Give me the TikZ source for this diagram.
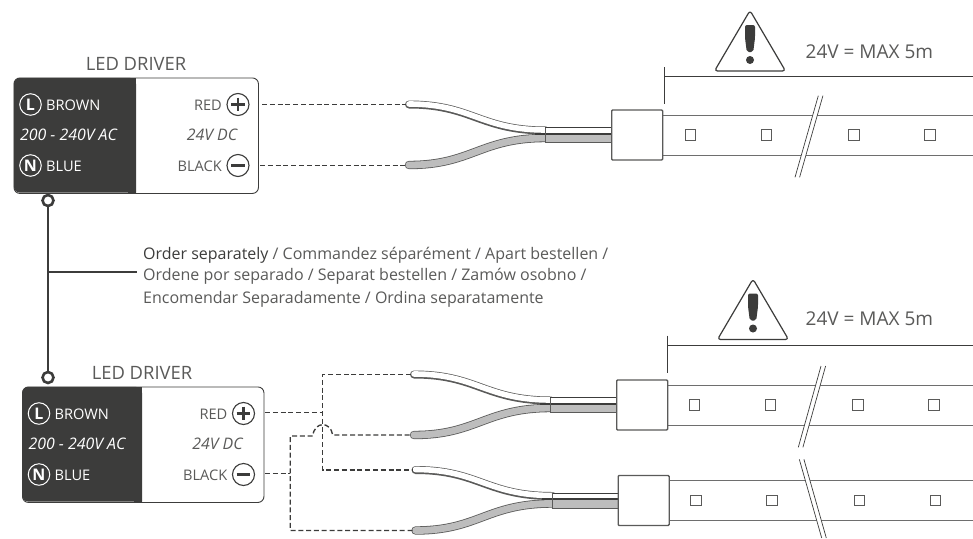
\documentclass[tikz,border=0pt]{standalone}
\usepackage{fontspec}
\setmainfont{Open Sans}
\definecolor{ink}{HTML}{3C3C3B}
\definecolor{soft}{HTML}{5A5A59}
\definecolor{wiregrey}{HTML}{BDBDBD}
\definecolor{striplc}{HTML}{6E6E6E}
\tikzset{
  px/.style={x=1pt,y=-1pt},
  driver/.style={draw=ink,line width=0.9pt,rounded corners=6pt,fill=white,inner sep=0pt,minimum height=115.5pt},
  title/.style={anchor=base,font=\fontsize{18.4}{20}\selectfont,text=soft,inner sep=0pt},
  lab/.style={font=\fontsize{14.6}{16}\selectfont,text=soft,inner sep=0pt},
  labw/.style={lab,text=white},
  acfont/.style={font=\fontsize{15.9}{18}\selectfont\itshape,inner sep=0pt,anchor=base},
  ring/.style={circle,draw=white,line width=1pt,minimum size=21.5pt,inner sep=0pt,font=\fontsize{16}{18}\selectfont\bfseries,text=white},
  polar/.style={circle,draw=ink,line width=1.1pt,minimum size=22pt,inner sep=0pt},
  sign/.style={draw=ink,line width=2.3pt},
  joint/.style={circle,draw=ink,line width=2.6pt,fill=white,minimum size=11pt,inner sep=0pt},
  feed/.style={draw=ink,line width=1.1pt},
  dashwire/.style={draw=ink,line width=1.35pt,dash pattern=on 5pt off 2.8pt},
  connbox/.style={draw=soft,line width=1.4pt,rounded corners=1pt,fill=white,minimum width=51pt,minimum height=50pt,inner sep=0pt},
  led/.style={draw=soft,line width=1pt,fill=white,minimum size=10.5pt,inner sep=0pt},
  stripline/.style={draw=striplc,line width=1pt},
  breakline/.style={draw=ink,line width=0.7pt},
  dim/.style={draw=ink,line width=0.9pt},
  para/.style={anchor=base west,font=\fontsize{16}{18}\selectfont,inner sep=0pt,text=soft},
  warn/.style={anchor=base west,font=\fontsize{19}{21}\selectfont,text=soft,inner sep=0pt}
}
% driver: #1 name, #2 left x, #3 top y, #4 split x, #5 width
\newcommand{\drivergroup}[5]{%
  \begin{scope}[shift={(#2,#3)}]
    \node[driver,minimum width=#5 pt,anchor=north west] (#1) at (0,0) {};
    \fill[ink,rounded corners=6pt] (0.4,0.4) -- (#4,0.4) [sharp corners] -- (#4,115.1) [rounded corners=6pt] -- (0.4,115.1) -- cycle;
    \fill[ink] (#4-8,0.4) rectangle (#4,115.1);
    \node[ring] (#1L) at (17,27) {L};
    \node[ring] (#1N) at (17,88) {N};
    \node[labw,anchor=base west] at (32.5,32.7) {BROWN};
    \node[labw,anchor=base west] at (32.5,93.7) {BLUE};
    \node[acfont,text=white] at (55,63) {200 - 240V AC};
    \node[polar] (#1P) at (#5-20,27) {};
    \draw[sign] (#1P.center) +(-6.8,0) -- +(6.8,0) (#1P.center) +(0,-6.8) -- +(0,6.8);
    \node[polar] (#1M) at (#5-20,88) {};
    \draw[sign] (#1M.center) +(-6.8,0) -- +(6.8,0);
    \node[lab,anchor=base east] at (#5-36,32.7) {RED};
    \node[lab,anchor=base east] at (#5-36,93.7) {BLACK};
    \node[acfont,text=soft] at (#5-46,63) {24V DC};
  \end{scope}}
% wires + connector: #1 prefix, #2 dx, #3 dy
\newcommand{\wireset}[3]{%
  \begin{scope}[shift={(#2,#3)}]
    \coordinate (#1tipw) at (406,104.5);
    \coordinate (#1tipg) at (406,165);
    \draw[soft,line width=8pt,line cap=round] (409,104.5) .. controls (472,104.5) and (480,130.5) .. (546,130.5);
    \draw[white,line width=5.6pt,line cap=round] (409,104) .. controls (472,104) and (480,130) .. (546,130);
    \draw[soft,line width=8.4pt,line cap=round] (409,165) .. controls (472,165) and (480,138) .. (546,138);
    \draw[wiregrey,line width=6.8pt,line cap=round] (409,165) .. controls (472,165) and (480,138) .. (546,138);
    \fill[white] (545,127.7) rectangle (611,133);
    \fill[wiregrey] (545,134.5) rectangle (611,142.5);
    \draw[ink,line width=0.8pt] (545,127.7) -- (611,127.7);
    \draw[ink,line width=1.6pt] (535,133.7) -- (611,133.7);
    \draw[soft,line width=0.8pt] (545,142.7) -- (611,142.7);
    \draw[soft,line width=0.5pt] (545.5,127.7) -- (545.5,142.7);
    \node[connbox] (#1box) at (637.2,135) {};
  \end{scope}}
% strip: #1 dx, #2 top y, #3-#6 slash 1 top x, bottom x, top y, bottom y
\newcommand{\ledstrip}[6]{%
  \begin{scope}[shift={(#1,#2)}]
    \draw[stripline] (663,0) -- (973,0) (663,40) -- (973,40);
    \node[led] at (690.7,20) {};
    \node[led] at (766.7,20) {};
    \node[led] at (854,20) {};
    \node[led] at (930,20) {};
  \end{scope}
  \fill[white] (#3,#5) -- (#3+4.6,#5) -- (#4+4.6,#6) -- (#4,#6) -- cycle;
  \draw[breakline] (#3,#5) -- (#4,#6) (#3+4.6,#5) -- (#4+4.6,#6);}
% warning: #1 dx, #2 dy
\newcommand{\warning}[2]{%
  \begin{scope}[shift={(#1,#2)}]
    \draw[ink,line width=1.2pt,line join=round,rounded corners=3pt] (750,10.5) -- (785.5,71) -- (714.5,71) -- cycle;
    \fill[ink,rounded corners=2pt] (745,25) -- (755,25) -- (755,38) -- (753.2,52) -- (746.8,52) -- (745,38) -- cycle;
    \fill[ink] (750,60) circle (4pt);
    \draw[dim] (664,76.5) -- (973,76.5) (664,67) -- (664,104);
  \end{scope}}
\begin{document}
\begin{tikzpicture}[px]
\useasboundingbox (0,0) rectangle (973,538);
\fill[white] (0,0) rectangle (973,538);

% top driver
\drivergroup{da}{13.5}{77.5}{122.5}{244.5}
\node[title] at (136,70) {LED DRIVER};
% bottom driver
\drivergroup{db}{22}{386.5}{120}{241.5}
\node[title] at (142,379) {LED DRIVER};

% feed line
\node[joint] (ja) at (48,200.5) {};
\node[joint] (jb) at (48,377.5) {};
\coordinate (branch) at (48,272);
\coordinate (branchend) at (137,272);
\draw[feed] (ja) -- (jb);
\draw[feed] (branch) -- (branchend);

\node[para] (t1) at (143,259) {\textcolor{ink}{Order separately} / Commandez séparément / Apart bestellen /};
\node[para] (t2) at (143,280) {Ordene por separado / Separat bestellen / Zamów osobno /};
\node[para] (t3) at (143,303) {Encomendar Separadamente / Ordina separatamente};

% strips
\ledstrip{0}{115}{818.3}{795}{95.7}{177.3}
\ledstrip{4}{385}{821}{798.3}{366}{447.3}
\ledstrip{5.5}{480.7}{799.3}{821.7}{459.3}{538}

% wires
\wireset{a}{0}{0}
\wireset{b}{5}{270}
\wireset{c}{6.5}{365.5}

% warnings
\warning{0}{0}
\warning{3}{268.5}
\node[warn] (wa) at (805.5,58) {24V = MAX 5m};
\node[warn] (wb) at (805.5,325) {24V = MAX 5m};

% dashed wires, top
\coordinate (daPo) at (262,104.3);
\coordinate (daMo) at (260,165.3);
\draw[dashwire] (daPo) -- (daPo -| atipw);
\draw[dashwire] (daMo) -- (daMo -| atipg);

% dashed wires, bottom
\coordinate (dbPo) at (265,412.5);
\coordinate (dbMo) at (265,473.5);
\coordinate (busP) at (322.7,412.5);
\coordinate (busM) at (290.3,473.5);
\coordinate (hopa) at (312.7,436);
\coordinate (hopb) at (332.7,435);
\draw[dashwire] (dbPo) -- (busP);
\draw[dashwire] (btipw) -- (btipw -| busP) -- (ctipw -| busP) -- (ctipw);
\draw[dashwire] (dbMo) -- (busM);
\draw[dashwire] (ctipg) -- (ctipg -| busM) -- (hopa -| busM) -- (hopa) .. controls (314.5,421) and (330.5,421) .. (hopb) -- (btipg);
\end{tikzpicture}
\end{document}
